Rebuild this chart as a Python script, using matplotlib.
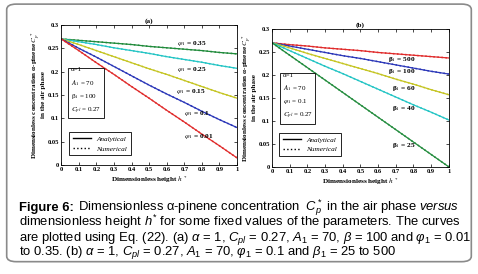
import matplotlib.pyplot as plt
from matplotlib.patches import FancyBboxPatch
from matplotlib.lines import Line2D

plt.rcParams["mathtext.fontset"] = "custom"
plt.rcParams["mathtext.rm"] = "Liberation Sans"
plt.rcParams["mathtext.it"] = "Liberation Sans:italic"
plt.rcParams["mathtext.bf"] = "Liberation Sans:bold"

h = [0, 0.1, 0.2, 0.3, 0.4, 0.5, 0.6, 0.7, 0.8, 0.9, 1.0]

# panel (a): phi1 values
phi_labels = ["0.35", "0.25", "0.15", "0.1", "0.01"]
phi_035 = [0.27, 0.267, 0.264, 0.261, 0.258, 0.254, 0.251, 0.248, 0.245, 0.241, 0.238]
phi_025 = [0.27, 0.264, 0.258, 0.251, 0.245, 0.239, 0.232, 0.226, 0.220, 0.213, 0.207]
phi_015 = [0.27, 0.258, 0.245, 0.232, 0.219, 0.206, 0.194, 0.181, 0.168, 0.155, 0.143]
phi_01 = [0.27, 0.250, 0.231, 0.211, 0.191, 0.171, 0.152, 0.134, 0.115, 0.097, 0.080]
phi_001 = [0.27, 0.245, 0.219, 0.194, 0.168, 0.143, 0.117, 0.092, 0.066, 0.041, 0.015]

# panel (b): beta1 values
beta_labels = ["500", "100", "60", "40", "25"]
beta_500 = [0.27, 0.266, 0.263, 0.259, 0.256, 0.253, 0.249, 0.246, 0.243, 0.240, 0.237]
beta_100 = [0.27, 0.263, 0.256, 0.249, 0.242, 0.236, 0.229, 0.222, 0.215, 0.208, 0.202]
beta_60 = [0.27, 0.259, 0.247, 0.236, 0.225, 0.214, 0.203, 0.191, 0.180, 0.168, 0.157]
beta_40 = [0.27, 0.253, 0.236, 0.219, 0.203, 0.186, 0.169, 0.152, 0.135, 0.119, 0.102]
beta_25 = [0.27, 0.243, 0.216, 0.189, 0.162, 0.135, 0.108, 0.081, 0.054, 0.027, 0.0]

colors = ["#1f8a3a", "#22c4c4", "#c4c420", "#2a36b8", "#e02a2a"]
colors_b = ["#e02a2a", "#2a36b8", "#c4c420", "#22c4c4", "#1f8a3a"]

serif = "Liberation Serif"

fig = plt.figure(figsize=(4.78, 2.74), dpi=100)
frame = FancyBboxPatch((0.014, 0.045), 0.972, 0.94, boxstyle="round,pad=0,rounding_size=0.02",
                       transform=fig.transFigure, fill=False, edgecolor="#8a8a8a", lw=1.2)
fig.patches.append(frame)

ax1 = fig.add_axes([0.128, 0.398, 0.368, 0.511])
ax2 = fig.add_axes([0.569, 0.391, 0.370, 0.503])


def setup(ax, title, leg_anchor):
    ax.set_xlim(0, 1)
    ax.set_ylim(0, 0.3)
    ax.set_xticks([0, 0.1, 0.2, 0.3, 0.4, 0.5, 0.6, 0.7, 0.8, 0.9, 1])
    ax.set_xticklabels(["0", "0.1", "0.2", "0.3", "0.4", "0.5", "0.6", "0.7", "0.8", "0.9", "1"])
    ax.set_yticks([0, 0.05, 0.1, 0.15, 0.2, 0.25, 0.3])
    ax.set_yticklabels(["0", "0.05", "0.1", "0.15", "0.2", "0.25", "0.3"])
    ax.tick_params(direction="in", length=2, width=0.5, labelsize=4.7, pad=1.5, top=True, right=True)
    for lab in ax.get_xticklabels() + ax.get_yticklabels():
        lab.set_fontfamily(serif)
        lab.set_fontweight("bold")
    for s in ax.spines.values():
        s.set_linewidth(0.6)
    ax.set_title(title, fontsize=5.2, family=serif, fontweight="bold", pad=2)
    ax.set_xlabel("Dimensionless height $h^*$", fontsize=5.2, family=serif, fontweight="bold",
                  labelpad=1.5, math_fontfamily="stix")
    ax.set_ylabel("Dimensionless concentration α-pinene $C_p^*$\nin the air phase", fontsize=5.1,
                  family=serif, fontweight="bold", labelpad=1, linespacing=0.85, math_fontfamily="stix")
    handles = [Line2D([], [], color="black", lw=1.0, ls="-"),
               Line2D([], [], color="black", lw=1.0, ls=":")]
    leg = ax.legend(handles, ["Analytical", "Numerical"], loc="lower left",
                    bbox_to_anchor=leg_anchor, prop={"family": serif, "style": "italic", "size": 5.2},
                    fancybox=False, edgecolor="black", framealpha=1, handlelength=2.5,
                    borderpad=0.5, labelspacing=0.5, borderaxespad=0)
    leg.get_frame().set_linewidth(0.6)


series_a = [phi_035, phi_025, phi_015, phi_01, phi_001]
for ys, c in zip(series_a, colors):
    ax1.plot(h, ys, color=c, lw=0.9)
    ax1.plot(h, ys, color=c, lw=1.1, ls=":")
pos_a = [(0.656, 0.261), (0.656, 0.205), (0.65, 0.157), (0.70, 0.111), (0.70, 0.061)]
for lab, (x, y) in zip(phi_labels, pos_a):
    ax1.text(x, y, r"$\varphi_1$ = " + lab, fontsize=5.3, family=serif, fontweight="bold",
             va="center", math_fontfamily="stix")
ax1.text(0.055, 0.157, "α=1\n$A_1$ = 70\nβ$_1$ = 100\n$C_{pl}$ = 0.27", fontsize=5, family=serif,
         va="center", linespacing=1.75, math_fontfamily="stix",
         bbox=dict(boxstyle="square,pad=0.35", fc="white", ec="black", lw=0.6))
setup(ax1, "(a)", (0.045, 0.07))

series_b = [beta_500, beta_100, beta_60, beta_40, beta_25]
for ys, c in zip(series_b, colors_b):
    ax2.plot(h, ys, color=c, lw=0.9)
    ax2.plot(h, ys, color=c, lw=1.1, ls=":")
pos_b = [(0.658, 0.233), (0.658, 0.207), (0.677, 0.171), (0.677, 0.126), (0.677, 0.047)]
for lab, (x, y) in zip(beta_labels, pos_b):
    ax2.text(x, y, "β$_1$ = " + lab, fontsize=5.3, family=serif, fontweight="bold",
             va="center", math_fontfamily="stix")
ax2.text(0.06, 0.152, "α=1\n$A_1$ = 70\n$\\varphi_1$ = 0.1\n$C_{pl}$ = 0.27", fontsize=5, family=serif,
         va="center", linespacing=1.75, math_fontfamily="stix",
         bbox=dict(boxstyle="square,pad=0.35", fc="white", ec="black", lw=0.6))
setup(ax2, "(b)", (0.04, 0.08))

# caption
cap_kw = dict(fontsize=9.4, family="Liberation Sans", ha="left", va="baseline", math_fontfamily="custom")
x0 = 0.04
t = fig.text(x0, 1 - 211 / 274, "Figure 6:", fontweight="bold", **cap_kw)
fig.canvas.draw()
bb = t.get_window_extent()
fig.text(bb.x1 / fig.bbox.width + 0.008, 1 - 211 / 274,
         r"Dimensionless α-pinene concentration  $C_p^*$ in the air phase $\it{versus}$", **cap_kw)
fig.text(x0, 1 - 226 / 274,
         r"dimensionless height $\it{h}^{*}$ for some fixed values of the parameters. The curves", **cap_kw)
fig.text(x0, 1 - 241 / 274,
         r"are plotted using Eq. (22). (a) $\it{α}$ = 1, $\it{C}_{pl}$ = 0.27, $\it{A}_1$ = 70, $\it{β}$ = 100 and $\it{φ}_1$ = 0.01",
         **cap_kw)
fig.text(x0, 1 - 255 / 274,
         r"to 0.35. (b) $\it{α}$ = 1, $\it{C}_{pl}$ = 0.27, $\it{A}_1$ = 70, $\it{φ}_1$ = 0.1 and $\it{β}_1$ = 25 to 500",
         **cap_kw)

fig.savefig("out.png", dpi=100)
